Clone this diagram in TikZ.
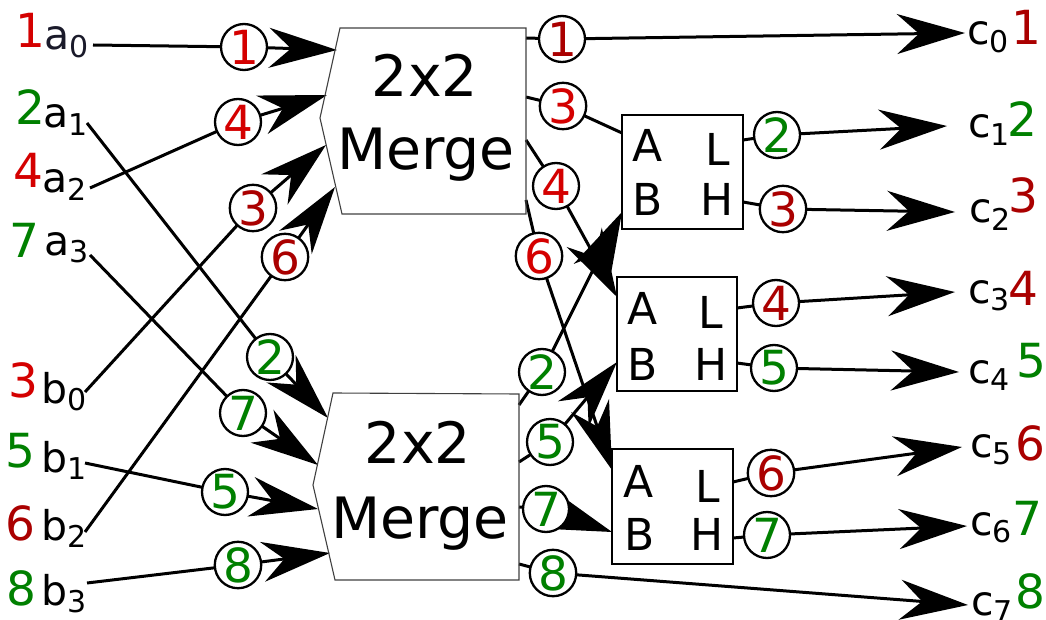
\documentclass[tikz,border=0pt]{standalone}
\usepackage{fontspec}
\setmainfont{DejaVu Sans}
\usetikzlibrary{arrows.meta,backgrounds}
\definecolor{bred}{HTML}{D40000}
\definecolor{dred}{HTML}{AA0000}
\definecolor{grn}{HTML}{008000}
\definecolor{navy}{HTML}{1A1A2A}
\newcommand\fsz[1]{\fontsize{#1}{#1}\selectfont}
\newcommand\sbs[2]{#1\raisebox{-7.5pt}{\fsz{30}#2}}
\begin{document}
\begin{tikzpicture}[x=1pt,y=-1pt,
 conn/.style={line width=3pt},
 arr/.style={conn,-{Stealth[length=68pt,width=40pt,inset=22pt]}},
 badge/.style={circle,draw,fill=white,line width=2.3pt,minimum size=46pt,inner sep=0pt,font=\fsz{47}},
 bignum/.style={inner sep=0pt,anchor=base,font=\fsz{47}},
 lbl/.style={inner sep=0pt,anchor=base west,font=\fsz{41}},
 cmpbox/.style={draw,line width=2.4pt,inner sep=0pt},
 boxlet/.style={inner sep=0pt,anchor=base,font=\fsz{44}},
 mergeshape/.style={draw=black!75,line width=1.1pt},
 mtxt/.style={inner sep=0pt,anchor=base,font=\fsz{57}}]
\useasboundingbox (0,0) rectangle (1046,620);

% merge blocks
\draw[mergeshape] (340,28) -- (526,28) -- (526,214) -- (342,214) -- (320,118) -- cycle;
\draw[mergeshape] (333,393) -- (519,394) -- (519,580) -- (335,580) -- (313,485) -- cycle;
\node[mtxt] (m1a) at (425,97) {2x2};
\node[mtxt] (m1b) at (426,170) {Merge};
\node[mtxt] (m2a) at (418,463) {2x2};
\node[mtxt] (m2b) at (420,538) {Merge};

% comparator boxes
\node[cmpbox,minimum width=121pt,minimum height=114pt] (s1) at (682.5,172) {};
\node[cmpbox,minimum width=120pt,minimum height=114pt] (s2) at (677,334) {};
\node[cmpbox,minimum width=121pt,minimum height=115pt] (s3) at (672.5,506.5) {};
\node[boxlet] (s1a) at (648,162) {A};
\node[boxlet] (s1l) at (718,166) {L};
\node[boxlet] (s1b) at (648,216) {B};
\node[boxlet] (s1h) at (717,216) {H};
\node[boxlet] (s2a) at (643,324) {A};
\node[boxlet] (s2l) at (711,328) {L};
\node[boxlet] (s2b) at (643,380) {B};
\node[boxlet] (s2h) at (711,380) {H};
\node[boxlet] (s3a) at (639,497) {A};
\node[boxlet] (s3l) at (708,502) {L};
\node[boxlet] (s3b) at (640,550) {B};
\node[boxlet] (s3h) at (707,550) {H};

% left labels
\node[bignum,text=bred] (na0) at (30,48) {1};
\node[lbl,text=navy] (la0) at (44.5,50) {\sbs{a}{0}};
\node[bignum,text=grn] (na1) at (30,125) {2};
\node[lbl] (la1) at (43.5,128) {\sbs{a}{1}};
\node[bignum,text=bred] (na2) at (28,188) {4};
\node[lbl] (la2) at (42.5,193) {\sbs{a}{2}};
\node[bignum,text=grn] (na3) at (24,258) {7};
\node[lbl] (la3) at (44.5,255) {\sbs{a}{3}};
\node[bignum,text=bred] (nb0) at (23,397) {3};
\node[lbl] (lb0) at (41,403) {\sbs{b}{0}};
\node[bignum,text=grn] (nb1) at (20,467) {5};
\node[lbl] (lb1) at (41,472) {\sbs{b}{1}};
\node[bignum,text=dred] (nb2) at (20,540) {6};
\node[lbl] (lb2) at (41,540) {\sbs{b}{2}};
\node[bignum,text=grn] (nb3) at (21,605) {8};
\node[lbl] (lb3) at (41,605) {\sbs{b}{3}};

% right labels
\node[lbl] (lc0) at (967,45) {\sbs{c}{0}};
\node[bignum,text=dred] (nc0) at (1026,45) {1};
\node[lbl] (lc1) at (968,138) {\sbs{c}{1}};
\node[bignum,text=grn] (nc1) at (1022,137) {2};
\node[lbl] (lc2) at (969,223) {\sbs{c}{2}};
\node[bignum,text=dred] (nc2) at (1023,213) {3};
\node[lbl] (lc3) at (968,303) {\sbs{c}{3}};
\node[bignum,text=dred] (nc3) at (1023,305) {4};
\node[lbl] (lc4) at (968,383) {\sbs{c}{4}};
\node[bignum,text=grn] (nc4) at (1031,377) {5};
\node[lbl] (lc5) at (970,457) {\sbs{c}{5}};
\node[bignum,text=dred] (nc5) at (1030,460) {6};
\node[lbl] (lc6) at (970,535) {\sbs{c}{6}};
\node[bignum,text=grn] (nc6) at (1027,535) {7};
\node[lbl] (lc7) at (971,615) {\sbs{c}{7}};
\node[bignum,text=grn] (nc7) at (1030,608) {8};

% badges
\node[badge,text=bred] (k1) at (244,47) {1};
\node[badge,text=bred] (k4) at (238,122) {4};
\node[badge,text=dred] (k3) at (253,208) {3};
\node[badge,text=dred] (k6) at (285,257) {6};
\node[badge,text=grn] (k2) at (270,357) {2};
\node[badge,text=grn] (k7) at (243,413) {7};
\node[badge,text=grn] (k5) at (225,492) {5};
\node[badge,text=grn] (k8) at (238,565) {8};
\node[badge,text=dred] (p1) at (562,39) {1};
\node[badge,text=bred] (p3) at (563,106) {3};
\node[badge,text=bred] (p4) at (556,186) {4};
\node[badge,text=bred] (p6) at (539,256) {6};
\node[badge,text=grn] (p2) at (542,372) {2};
\node[badge,text=grn] (p5) at (550,442) {5};
\node[badge,text=grn] (p7) at (546,509) {7};
\node[badge,text=grn] (p8) at (553,573) {8};
\node[badge,text=grn] (q2) at (777,135) {2};
\node[badge,text=dred] (q3) at (783,209) {3};
\node[badge,text=dred] (q4) at (776,303) {4};
\node[badge,text=grn] (q5) at (774,368) {5};
\node[badge,text=dred] (q6) at (771,473) {6};
\node[badge,text=grn] (q7) at (767,535) {7};

% end points
\coordinate (a0e) at (93,45);
\coordinate (a1e) at (87,123);
\coordinate (a2e) at (90,188);
\coordinate (a3e) at (90,255);
\coordinate (b0e) at (85,392);
\coordinate (b1e) at (85,463);
\coordinate (b2e) at (85,532);
\coordinate (b3e) at (87,583);
\coordinate (mi1) at (337,50);
\coordinate (mi2) at (327,95);
\coordinate (mi3) at (326,145);
\coordinate (mi4) at (335,187);
\coordinate (ni1) at (328,418);
\coordinate (ni2) at (318,465);
\coordinate (ni3) at (318,509);
\coordinate (ni4) at (330,553);
\coordinate (mo1) at (526,38);
\coordinate (mo2) at (526,97);
\coordinate (mo3) at (526,140);
\coordinate (mo4) at (526,200);
\coordinate (no1) at (519,405);
\coordinate (no2) at (519,462);
\coordinate (no3) at (519,507);
\coordinate (no4) at (519,564);
\coordinate (s1A) at (622,133);
\coordinate (s1B) at (622,212);
\coordinate (s2A) at (617,297);
\coordinate (s2B) at (617,362);
\coordinate (s3A) at (612,470);
\coordinate (s3B) at (612,532);
\coordinate (s1L) at (743,140);
\coordinate (s1H) at (743,202);
\coordinate (s2L) at (737,308);
\coordinate (s2H) at (737,363);
\coordinate (s3L) at (733,482);
\coordinate (s3H) at (733,538);
\coordinate (t0) at (965,33);
\coordinate (t1) at (947,126);
\coordinate (t2) at (955,212);
\coordinate (t3) at (955,292);
\coordinate (t4) at (959,372);
\coordinate (t5) at (962,447);
\coordinate (t6) at (967,526);
\coordinate (t7) at (968,605);

\begin{pgfonlayer}{background}
\draw[arr] (a0e) -- (k1.center) -- (mi1);
\draw[arr] (a2e) -- (k4.center) -- (mi2);
\draw[arr] (b0e) -- (k3.center) -- (mi3);
\draw[arr] (b2e) -- (k6.center) -- (mi4);
\draw[arr] (a1e) -- (k2.center) -- (ni1);
\draw[arr] (a3e) -- (k7.center) -- (ni2);
\draw[arr] (b1e) -- (k5.center) -- (ni3);
\draw[arr] (b3e) -- (k8.center) -- (ni4);
\draw[arr] (mo1) -- (p1.center) -- (t0);
\draw[conn] (mo2) -- (p3.center) -- (s1A);
\draw[arr] (mo3) -- (p4.center) -- (s2A);
\draw[arr] (mo4) -- (p6.center) -- (s3A);
\draw[arr] (no1) -- (p2.center) -- (s1B);
\draw[arr] (no2) -- (p5.center) -- (s2B);
\draw[arr] (no3) -- (p7.center) -- (s3B);
\draw[arr] (no4) -- (p8.center) -- (t7);
\draw[arr] (s1L) -- (q2.center) -- (t1);
\draw[arr] (s1H) -- (q3.center) -- (t2);
\draw[arr] (s2L) -- (q4.center) -- (t3);
\draw[arr] (s2H) -- (q5.center) -- (t4);
\draw[arr] (s3L) -- (q6.center) -- (t5);
\draw[arr] (s3H) -- (q7.center) -- (t6);
\end{pgfonlayer}
\end{tikzpicture}
\end{document}
